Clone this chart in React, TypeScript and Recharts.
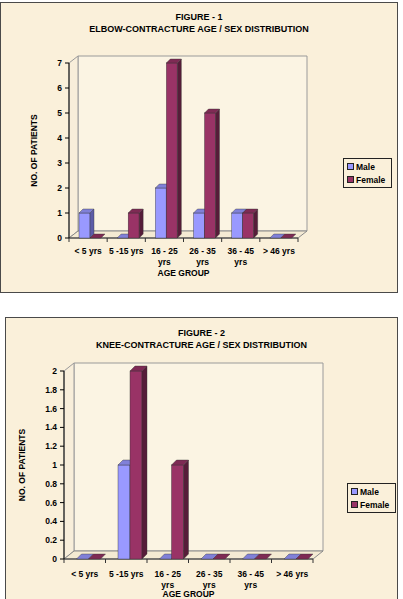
import { Bar, BarChart, Legend, ReferenceArea, XAxis, YAxis } from 'recharts'

const CATEGORIES = ['< 5 yrs', '5 -15 yrs', '16 - 25 yrs', '26 - 35 yrs', '36 - 45 yrs', '> 46 yrs']

const ELBOW_MALE = [1, 0, 2, 1, 1, 0]
const ELBOW_FEMALE = [0, 1, 7, 5, 1, 0]
const ELBOW_TICKS = [0, 1, 2, 3, 4, 5, 6, 7]

const KNEE_MALE = [0, 1, 0, 0, 0, 0]
const KNEE_FEMALE = [0, 2, 1, 0, 0, 0]
const KNEE_TICKS = [0, 0.2, 0.4, 0.6, 0.8, 1, 1.2, 1.4, 1.6, 1.8, 2]

const FONT = '"Liberation Sans", Arial, sans-serif'
const PAPER = '#FAF0DA'
const MALE = { front: '#9999FF', top: '#8080D8', side: '#5C5CA8' }
const FEMALE = { front: '#993366', top: '#7E2A54', side: '#561C39' }

const toRows = (male: number[], female: number[]) =>
  CATEGORIES.map((c, i) => ({ name: c, Male: male[i], Female: female[i] }))

// Back wall, left wall and floor of the pseudo-3D plot box
function Walls(props: any) {
  const { x, y, width: w, height: h, dx, dy, n } = props
  const pts = (a: number[][]) => a.map((p) => p.join(',')).join(' ')
  const ticks = Array.from({ length: n + 1 }, (_, k) => x + (k * w) / n)
  return (
    <g>
      <polygon points={pts([[x + dx, y - dy], [x + w + dx, y - dy], [x + w + dx, y + h - dy], [x + dx, y + h - dy]])}
        fill="#FBF4E3" stroke="#9a9a9a" strokeWidth={1} />
      <polygon points={pts([[x, y], [x + dx, y - dy], [x + dx, y + h - dy], [x, y + h]])}
        fill="#F8EEDA" stroke="#9a9a9a" strokeWidth={1} />
      <polygon points={pts([[x, y + h], [x + w, y + h], [x + w + dx, y + h - dy], [x + dx, y + h - dy]])}
        fill="#F4EAD3" stroke="#8a8a8a" strokeWidth={1} />
      <line x1={x} y1={y + h} x2={x + w} y2={y + h} stroke="#333" strokeWidth={1} />
      {ticks.map((t, k) => (
        <line key={k} x1={t} y1={y + h} x2={t} y2={y + h + 4} stroke="#333" strokeWidth={1} />
      ))}
    </g>
  )
}

// Column with a top face and a shaded right side
function Column(props: any) {
  const { x: x0, y, width: w, height: h, colors, d, shift } = props
  if (x0 == null || y == null) return null
  const x = x0 + shift
  const hh = Math.max(h || 0, 0)
  const pts = (a: number[][]) => a.map((p) => p.join(',')).join(' ')
  return (
    <g>
      {hh > 0 && <rect x={x} y={y} width={w} height={hh} fill={colors.front} stroke="#333" strokeWidth={0.4} />}
      {hh > 0 && (
        <polygon points={pts([[x + w, y], [x + w + d, y - d], [x + w + d, y + hh - d], [x + w, y + hh]])}
          fill={colors.side} stroke="#333" strokeWidth={0.4} />
      )}
      <polygon points={pts([[x, y], [x + d, y - d], [x + w + d, y - d], [x + w, y]])}
        fill={colors.top} stroke="#333" strokeWidth={0.4} />
    </g>
  )
}

function CategoryTick({ x, y, payload, dy }: any) {
  const v: string = payload.value
  const cut = v.lastIndexOf(' ')
  const lines = v.length > 9 ? [v.slice(0, cut), v.slice(cut + 1)] : [v]
  return (
    <text x={x} y={y} textAnchor="middle" fontSize={8.5} fontWeight="bold" fill="#000" fontFamily={FONT}>
      {lines.map((l, i) => (
        <tspan key={i} x={x} dy={i === 0 ? dy : 11}>{l}</tspan>
      ))}
    </text>
  )
}

function LegendBox() {
  const item = (label: string, color: string) => (
    <div style={{ display: 'flex', alignItems: 'center', height: 13 }}>
      <span style={{ width: 5, height: 5, background: color, border: '1px solid #222', marginRight: 2 }} />
      <span>{label}</span>
    </div>
  )
  return (
    <div style={{
      border: '1px solid #222', background: PAPER, padding: '1px 0 1px 3px', boxSizing: 'border-box',
      width: 49, font: `bold 8.5px ${FONT}`, color: '#000',
    }}>
      {item('Male', MALE.front)}
      {item('Female', FEMALE.front)}
    </div>
  )
}

type FigureProps = {
  left: number; top: number; width: number; height: number
  lines: string[]; titleTop: number
  data: any[]; ticks: number[]; max: number
  margin: { top: number; right: number; bottom: number; left: number }
  yLabelOffset: number; tickDy: number
  barSize: number; depth: number; wallX: number; wallY: number; shift: number
  legend: { left: number; top: number }
}

function Figure(p: FigureProps) {
  return (
    <div style={{
      position: 'absolute', left: p.left, top: p.top, width: p.width, height: p.height,
      border: '1px solid #4a4a4a', boxSizing: 'border-box', background: PAPER,
    }}>
      <div style={{
        position: 'absolute', left: -1, top: p.titleTop, width: p.width, textAlign: 'center',
        font: `bold 9px ${FONT}`, lineHeight: '12px', color: '#000',
      }}>
        {p.lines.map((l) => <div key={l}>{l}</div>)}
      </div>
      <div style={{ position: 'absolute', left: -1, top: -1 }}>
        <BarChart width={p.width} height={p.height} data={p.data} margin={p.margin} barGap={0} barSize={p.barSize}>
          <ReferenceArea y1={0} y2={p.max} ifOverflow="visible"
            shape={(s: any) => <Walls {...s} dx={p.wallX} dy={p.wallY} n={CATEGORIES.length} />} />
          <XAxis dataKey="name" height={45} axisLine={false} tickLine={false} tickSize={0} tickMargin={0}
            interval={0} tick={<CategoryTick dy={p.tickDy} />}
            label={{ value: 'AGE GROUP', position: 'insideBottom', offset: 7, fontSize: 8.5, fontWeight: 'bold', fill: '#000', fontFamily: FONT }} />
          <YAxis width={40} domain={[0, p.max]} ticks={p.ticks} interval={0} stroke="#000"
            tickSize={4} tickMargin={3} tickFormatter={(v: number) => String(Number(v.toFixed(1)))}
            tick={{ fontSize: 8.5, fontWeight: 'bold', fill: '#000', fontFamily: FONT }}
            label={{ value: 'NO. OF PATIENTS', angle: -90, position: 'insideLeft', offset: p.yLabelOffset, fontSize: 8.5, fontWeight: 'bold', fill: '#000', fontFamily: FONT, style: { textAnchor: 'middle' } }} />
          <Legend layout="horizontal" verticalAlign="middle" align="center"
            wrapperStyle={{ left: p.legend.left, top: p.legend.top, width: 49 }} content={() => <LegendBox />} />
          <Bar dataKey="Male" fill={MALE.front} isAnimationActive={false}
            shape={(s: any) => <Column {...s} colors={MALE} d={p.depth} shift={p.shift} />} />
          <Bar dataKey="Female" fill={FEMALE.front} isAnimationActive={false}
            shape={(s: any) => <Column {...s} colors={FEMALE} d={p.depth} shift={p.shift} />} />
        </BarChart>
      </div>
    </div>
  )
}

export default function App() {
  return (
    <div style={{ position: 'fixed', left: 0, top: 0, width: 403, height: 599, overflow: 'hidden', background: '#fff' }}>
      <Figure
        left={0} top={2} width={398} height={291}
        lines={['FIGURE - 1', 'ELBOW-CONTRACTURE AGE / SEX DISTRIBUTION']} titleTop={8}
        data={toRows(ELBOW_MALE, ELBOW_FEMALE)} ticks={ELBOW_TICKS} max={7}
        margin={{ top: 61, right: 100, bottom: 10, left: 29 }}
        yLabelOffset={5} tickDy={16}
        barSize={11} depth={4} wallX={9} wallY={7} shift={2}
        legend={{ left: 343, top: 156 }}
      />
      <Figure
        left={5} top={317} width={393} height={290}
        lines={['FIGURE - 2', 'KNEE-CONTRACTURE AGE / SEX DISTRIBUTION']} titleTop={9}
        data={toRows(KNEE_MALE, KNEE_FEMALE)} ticks={KNEE_TICKS} max={2}
        margin={{ top: 54, right: 85, bottom: 3, left: 19 }}
        yLabelOffset={-2} tickDy={18}
        barSize={12} depth={5} wallX={10} wallY={8} shift={3.5}
        legend={{ left: 342, top: 166 }}
      />
    </div>
  )
}
